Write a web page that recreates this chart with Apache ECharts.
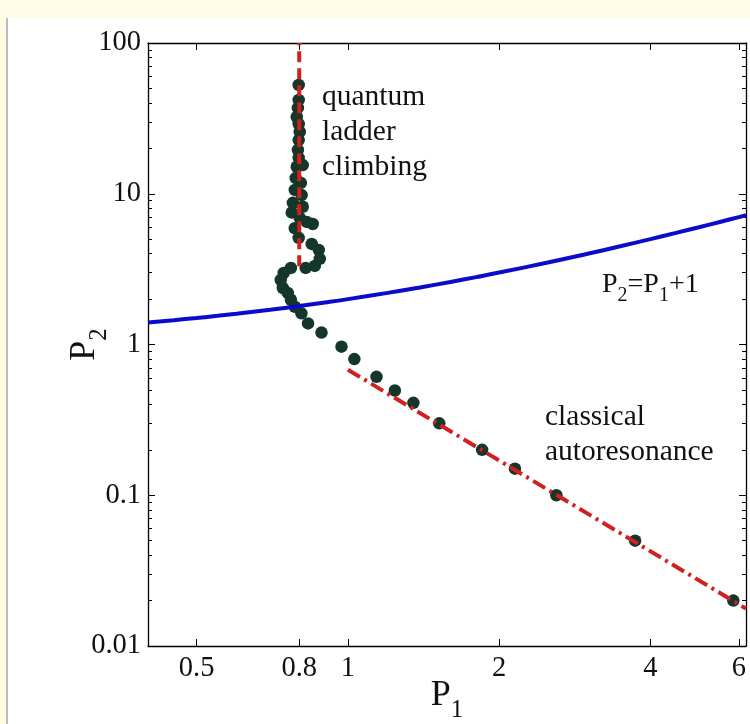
<!DOCTYPE html>
<html>
<head>
<meta charset="utf-8">
<script src="https://cdn.jsdelivr.net/npm/echarts@6/dist/echarts.min.js"></script>
<style>
  html, body { margin: 0; padding: 0; background: #fffde6; }
  #chart { width: 750px; height: 724px; }
</style>
</head>
<body>
<div id="chart"></div>
<script>
// ---- data ----
const xTicks = [0.5, 0.8, 1, 2, 4, 6];
const xTickLabels = ['0.5', '0.8', '1', '2', '4', '6'];
const yTicks = [0.01, 0.1, 1, 10, 100];
const yTickLabels = ['0.01', '0.1', '1', '10', '100'];
const yMinorTicks = [0.02,0.03,0.04,0.05,0.06,0.07,0.08,0.09,
                     0.2,0.3,0.4,0.5,0.6,0.7,0.8,0.9,
                     2,3,4,5,6,7,8,9,
                     20,30,40,50,60,70,80,90];

// simulated points: quantum ladder climbing branch (P1, P2)
const quantumPoints = [
  [0.798, 52.7], [0.798, 41.9], [0.795, 37.1], [0.791, 32.3], [0.798, 29.0],
  [0.802, 25.7], [0.798, 22.7], [0.795, 19.5], [0.798, 17.3], [0.791, 15.1],
  [0.813, 15.5], [0.787, 12.7], [0.806, 11.8], [0.784, 10.6], [0.809, 9.8],
  [0.777, 8.7], [0.813, 8.2], [0.773, 7.5], [0.802, 6.9], [0.828, 6.5],
  [0.851, 6.3], [0.784, 5.9], [0.798, 5.1], [0.847, 4.65], [0.875, 4.24],
  [0.879, 3.70], [0.859, 3.32], [0.824, 3.22], [0.770, 3.22], [0.745, 2.98],
  [0.735, 2.68], [0.742, 2.37], [0.759, 2.20], [0.770, 1.98], [0.784, 1.78]
];
// simulated points: classical autoresonance branch (P1, P2)
const classicalPoints = [
  [0.808, 1.61], [0.833, 1.38], [0.886, 1.20], [0.971, 0.968], [1.03, 0.80],
  [1.14, 0.61], [1.24, 0.495], [1.35, 0.41], [1.52, 0.30], [1.85, 0.20],
  [2.15, 0.15], [2.6, 0.10], [3.73, 0.05], [5.85, 0.02]
];
// blue curve P2 = P1 + 1
const boundaryP1 = [0.4, 0.45, 0.5, 0.55, 0.6, 0.7, 0.8, 0.9, 1, 1.2, 1.4, 1.6, 1.8, 2, 2.5, 3, 3.5, 4, 4.5, 5, 5.5, 6, 6.2];
const boundaryP2 = [1.4, 1.45, 1.5, 1.55, 1.6, 1.7, 1.8, 1.9, 2, 2.2, 2.4, 2.6, 2.8, 3, 3.5, 4, 4.5, 5, 5.5, 6, 6.5, 7, 7.2];
// red dashed: quantum threshold (vertical line)
const quantumLineP1 = [0.8, 0.8];
const quantumLineP2 = [3.3, 100];
// red dash-dot: classical fit
const classicalLineP1 = [1, 6.2];
const classicalLineP2 = [0.68, 0.0177];

const FONT = '"Liberation Serif", "Times New Roman", serif';
const zip = (a, b) => a.map((v, i) => [v, b[i]]);
const labelOf = (ticks, labels) => (v) => {
  let best = 0, bd = Infinity;
  ticks.forEach((t, i) => { const d = Math.abs(Math.log(v) - Math.log(t)); if (d < bd) { bd = d; best = i; } });
  return labels[best];
};

const chart = echarts.init(document.getElementById('chart'), null, { renderer: 'canvas' });

const axisLineStyle = { color: '#000', width: 1.3 };
const baseX = {
  type: 'log', min: 0.4, max: 6.2, logBase: 10,
  splitLine: { show: false }, minorTick: { show: false },
  axisLine: { show: true, onZero: false, lineStyle: axisLineStyle }
};
const baseY = {
  type: 'log', min: 0.01, max: 100, logBase: 10,
  splitLine: { show: false }, minorTick: { show: false },
  axisLine: { show: true, onZero: false, lineStyle: axisLineStyle }
};
const nameRich = {
  p: { fontSize: 36, fontFamily: FONT, color: '#111', lineHeight: 38, verticalAlign: 'top' },
  s: { fontSize: 25, fontFamily: FONT, color: '#111', lineHeight: 24, padding: [20, 0, 0, 0], verticalAlign: 'top' }
};

const option = {
  backgroundColor: '#fffde6',
  animation: false,
  graphic: [
    { type: 'rect', shape: { x: 7, y: 18, width: 760, height: 720 }, style: { fill: '#ffffff' }, z: -10, silent: true },
    { type: 'line', shape: { x1: 7, y1: 18, x2: 7, y2: 724 }, style: { stroke: '#9a9a9a', lineWidth: 1.3 }, z: -9, silent: true },
    { type: 'text', left: 322, top: 80, z: 10,
      style: { text: 'quantum\nladder\nclimbing', font: '29.5px ' + FONT, fill: '#111', lineHeight: 35 } },
    { type: 'text', left: 545, top: 400, z: 10,
      style: { text: 'classical\nautoresonance', font: '29.5px ' + FONT, fill: '#111', lineHeight: 35 } },
    { type: 'text', left: 602, top: 271, z: 10,
      style: {
        text: '{p|P}{s|2}{p|=P}{s|1}{p|+1}',
        rich: {
          p: { fontSize: 28, fontFamily: FONT, fill: '#111', lineHeight: 30, verticalAlign: 'top' },
          s: { fontSize: 20, fontFamily: FONT, fill: '#111', lineHeight: 20, padding: [15, 0, 0, 0], verticalAlign: 'top' }
        }
      } }
  ],
  grid: { left: 148, right: 4, top: 43, bottom: 78, containLabel: false, outerBoundsMode: 'none', show: false },
  xAxis: [
    Object.assign({}, baseX, {
      position: 'bottom', gridIndex: 0,
      name: '{p|P}{s|1}', nameLocation: 'middle', nameGap: 32, nameMoveOverlap: false,
      nameTextStyle: { rich: nameRich },
      axisTick: { show: true, inside: true, length: 7, lineStyle: { color: '#000', width: 1 }, customValues: xTicks },
      axisLabel: { show: true, margin: 8, fontSize: 28.5, fontFamily: FONT, color: '#111', customValues: xTicks,
        formatter: labelOf(xTicks, xTickLabels) }
    }),
    Object.assign({}, baseX, {
      position: 'top', gridIndex: 0,
      axisTick: { show: true, inside: true, length: 7, lineStyle: { color: '#000', width: 1 }, customValues: xTicks },
      axisLabel: { show: false }
    })
  ],
  yAxis: [
    Object.assign({}, baseY, {
      position: 'left',
      name: '{p|P}{s|2}', nameLocation: 'middle', nameGap: 43, nameRotate: 90, nameMoveOverlap: false,
      nameTextStyle: { rich: nameRich },
      axisTick: { show: true, inside: true, length: 7, lineStyle: { color: '#000', width: 1 }, customValues: yTicks },
      axisLabel: { show: true, margin: 7, fontSize: 28.5, fontFamily: FONT, color: '#111', customValues: yTicks,
        formatter: labelOf(yTicks, yTickLabels) }
    }),
    Object.assign({}, baseY, {
      position: 'left',
      axisLine: { show: false },
      axisTick: { show: true, inside: true, length: 4, lineStyle: { color: '#000', width: 1 }, customValues: yMinorTicks },
      axisLabel: { show: false }
    }),
    Object.assign({}, baseY, {
      position: 'right',
      axisTick: { show: true, inside: true, length: 7, lineStyle: { color: '#000', width: 1 }, customValues: yTicks },
      axisLabel: { show: false }
    }),
    Object.assign({}, baseY, {
      position: 'right',
      axisLine: { show: false },
      axisTick: { show: true, inside: true, length: 4, lineStyle: { color: '#000', width: 1 }, customValues: yMinorTicks },
      axisLabel: { show: false }
    })
  ],
  series: [
    { name: 'quantum', type: 'scatter', data: quantumPoints, symbol: 'circle', symbolSize: 12.5,
      itemStyle: { color: '#15362a', opacity: 1 }, z: 2 },
    { name: 'classical', type: 'scatter', data: classicalPoints, symbol: 'circle', symbolSize: 12.5,
      itemStyle: { color: '#15362a', opacity: 1 }, z: 2 },
    { name: 'P2=P1+1', type: 'line', data: zip(boundaryP1, boundaryP2), smooth: true, showSymbol: false,
      lineStyle: { color: '#0b0bcc', width: 4 }, z: 3 },
    { name: 'quantum threshold', type: 'line', data: zip(quantumLineP1, quantumLineP2), showSymbol: false,
      lineStyle: { color: '#d21f1f', width: 4, type: [11, 6] }, z: 4 },
    { name: 'classical fit', type: 'line', data: zip(classicalLineP1, classicalLineP2), showSymbol: false,
      lineStyle: { color: '#d21f1f', width: 4, type: [14, 5, 3, 5] }, z: 4 }
  ]
};
chart.setOption(option);
</script>
</body>
</html>
